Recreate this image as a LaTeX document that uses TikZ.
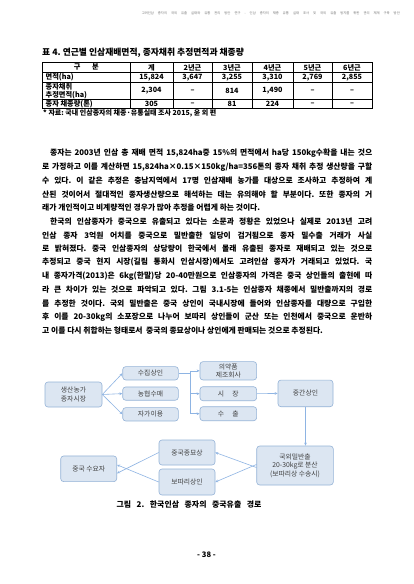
\documentclass[tikz,border=0pt]{standalone}
\usepackage{fontspec}
\setmainfont{Noto Sans CJK KR}
\usetikzlibrary{arrows.meta}
\frenchspacing
\definecolor{boxfill}{HTML}{DCE6F2}
\definecolor{boxline}{HTML}{95B3D7}
\definecolor{arr}{HTML}{8EB4E3}
\definecolor{boxtext}{HTML}{404040}
\newcommand{\bodyfont}{\bfseries\fontsize{7.8}{9}\selectfont}
\newcommand{\pl}[4]{\node[anchor=west,inner sep=0pt,font=\bodyfont] (#1) at (#3,#2) {\makebox[\dimexpr372pt-#3pt\relax][s]{#4}};}
\newcommand{\plnat}[4]{\node[anchor=west,inner sep=0pt,font=\bodyfont] (#1) at (#3,#2) {#4};}
\begin{document}
\begin{tikzpicture}[x=1pt,y=-1pt,
  fbox/.style={draw=boxline, fill=boxfill, rounded corners=3pt, line width=0.6pt, text=boxtext, font=\fontsize{6.8}{8.6}\selectfont, align=center, inner sep=0pt},
  conn/.style={draw=arr, line width=0.6pt},
  arrowline/.style={conn, -{Stealth[length=3pt,width=2.6pt]}},
  tcell/.style={font=\bfseries\fontsize{7.2}{8.3}\selectfont, inner sep=0pt, align=left},
  grid/.style={line width=0.5pt},
]
\fill[white] (0,0) rectangle (413,584);
\useasboundingbox (0,0) rectangle (413,584);

% running header
\node[anchor=east, inner sep=0pt, text=black!55, font=\fontsize{3.3}{4}\selectfont] (hdr) at (400,13) {\makebox[258pt][s]{고려인삼 종자의 국외 유출 실태와 유통 관리 방안 연구 - 인삼 종자의 채종 유통 실태 조사 및 국외 유출 방지를 위한 관리 체계 구축 방안}};

% table title
\node[anchor=west, inner sep=0pt, font=\bfseries\fontsize{8.8}{9.8}\selectfont] (ttl) at (42,52.5) {표 4. 연근별 인삼재배면적, 종자채취 추정면적과 채종량};

% table grid
\draw[line width=0.7pt] (42.5,62.5) rectangle (372,108.7);
\foreach \yy in {72.2,82.5,99.2} \draw[grid] (42.5,\yy) -- (372,\yy);
\foreach \xx in {130,173,212,252,293,332} \draw[grid] (\xx,62.5) -- (\xx,108.7);

% header row
\node[tcell] (h0) at (86.25,67.4) {구\hspace{1.6em}분};
\node[tcell] (h1) at (151.5,67.4) {계};
\node[tcell] (h2) at (192.5,67.4) {2년근};
\node[tcell] (h3) at (232,67.4) {3년근};
\node[tcell] (h4) at (272.5,67.4) {4년근};
\node[tcell] (h5) at (312.5,67.4) {5년근};
\node[tcell] (h6) at (352,67.4) {6년근};
% row 1
\node[tcell, anchor=west] (r1a) at (45.5,77.4) {면적(ha)};
\node[tcell] (r1b) at (151.5,77.4) {15,824};
\node[tcell] (r1c) at (192.5,77.4) {3,647};
\node[tcell] (r1d) at (232,77.4) {3,255};
\node[tcell] (r1e) at (272.5,77.4) {3,310};
\node[tcell] (r1f) at (312.5,77.4) {2,769};
\node[tcell] (r1g) at (352,77.4) {2,855};
% row 2
\node[tcell, anchor=west] (r2a) at (45.5,90.9) {종자채취\\추정면적(ha)};
\node[tcell] (r2b) at (151.5,90.9) {2,304};
\node[tcell] (r2c) at (192.5,90.9) {--};
\node[tcell] (r2d) at (232,90.9) {814};
\node[tcell] (r2e) at (272.5,90.9) {1,490};
\node[tcell] (r2f) at (312.5,90.9) {--};
\node[tcell] (r2g) at (352,90.9) {--};
% row 3
\node[tcell, anchor=west] (r3a) at (45.5,104) {종자 채종량(톤)};
\node[tcell] (r3b) at (151.5,104) {305};
\node[tcell] (r3c) at (192.5,104) {--};
\node[tcell] (r3d) at (232,104) {81};
\node[tcell] (r3e) at (272.5,104) {224};
\node[tcell] (r3f) at (312.5,104) {--};
\node[tcell] (r3g) at (352,104) {--};

\node[anchor=west, inner sep=0pt, font=\bfseries\fontsize{7}{8}\selectfont] (src) at (43,113.5) {* 자료: 국내 인삼종자의 채종·유통실태 조사 2015, 윤 외 편};

% body text
\pl{p1}{153.5}{50}{종자는 2003년 인삼 총 재배 면적 15,824ha중 15\%의 면적에서 ha당 150kg수확을 내는 것으}
\pl{p2}{167.1}{42}{로 가정하고 이를 계산하면 15,824ha×0.15×150kg/ha=356톤의 종자 채취 추정 생산량을 구할}
\pl{p3}{180.7}{42}{수 있다. 이 같은 추정은 충남지역에서 17명 인삼재배 농가를 대상으로 조사하고 추정하여 계}
\pl{p4}{194.3}{42}{산된 것이어서 절대적인 종자생산량으로 해석하는 데는 유의해야 할 부분이다. 또한 종자의 거}
\plnat{p5}{207.9}{42}{래가 개인적이고 비계량적인 경우가 많아 추정을 어렵게 하는 것이다.}
\pl{p6}{221.5}{50}{한국의 인삼종자가 중국으로 유출되고 있다는 소문과 정황은 있었으나 실제로 2013년 고려}
\pl{p7}{235.1}{42}{인삼 종자 3억원 어치를 중국으로 밀반출한 일당이 검거됨으로 종자 밀수출 거래가 사실}
\pl{p8}{248.7}{42}{로 밝혀졌다. 중국 인삼종자의 상당량이 한국에서 몰래 유출된 종자로 재배되고 있는 것으로}
\pl{p9}{262.3}{42}{추정되고 중국 현지 시장(길림 통화시 인삼시장)에서도 고려인삼 종자가 거래되고 있었다. 국}
\pl{p10}{275.9}{42}{내 종자가격(2013)은 6kg(한말)당 20-40만원으로 인삼종자의 가격은 중국 상인들의 출현에 따}
\pl{p11}{289.5}{42}{라 큰 차이가 있는 것으로 파악되고 있다. 그림 3.1-5는 인삼종자 채종에서 밀반출까지의 경로}
\pl{p12}{303.1}{42}{를 추정한 것이다. 국외 밀반출은 중국 상인이 국내시장에 들어와 인삼종자를 대량으로 구입한}
\pl{p13}{316.7}{42}{후 이를 20-30kg의 소포장으로 나누어 보따리 상인들이 군산 또는 인천에서 중국으로 운반하}
\plnat{p14}{330.3}{42}{고 이를 다시 취합하는 형태로서\ \ 중국의 종묘상이나 상인에게 판매되는 것으로 추정된다.}

% diagram boxes
\node[fbox, minimum width=57pt, minimum height=25pt] (A) at (73.5,394.5) {생산농가\\종자시장};
\node[fbox, minimum width=55.6pt, minimum height=13.3pt] (B1) at (150.5,373.3) {수집상인};
\node[fbox, minimum width=55.6pt, minimum height=13.3pt] (B2) at (150.5,393.6) {농협수매};
\node[fbox, minimum width=55.6pt, minimum height=13.3pt] (B3) at (150.5,414.3) {자가이용};
\node[fbox, minimum width=56.7pt, minimum height=18.3pt] (C1) at (228.3,370.8) {의약품\\제조회사};
\node[fbox, minimum width=56.7pt, minimum height=14pt] (C2) at (228.3,393.7) {시\hspace{1.2em}장};
\node[fbox, minimum width=56.7pt, minimum height=14pt] (C3) at (228.3,413.7) {수\hspace{1.2em}출};
\node[fbox, minimum width=55pt, minimum height=26.7pt] (D) at (305.5,393.4) {중간상인};
\node[fbox, minimum width=76.6pt, minimum height=39pt] (E) at (295,465.5) {국외밀반출\\20-30kg로 분산\\(보따리상 수송시)};
\node[fbox, minimum width=56pt, minimum height=25pt] (F1) at (187,452.5) {중국종묘상};
\node[fbox, minimum width=56pt, minimum height=26pt] (F2) at (187,482) {보따리상인};
\node[fbox, minimum width=56pt, minimum height=25.7pt] (G) at (88.7,468.8) {중국 수요자};

% connectors
\draw[arrowline] (A.east) -- (B1.west);
\draw[arrowline] (A.east) -- (B2.west);
\draw[arrowline] (A.east) -- (B3.west);
\coordinate (bx) at (190,373.3);
\draw[conn] (B1.east) -- (bx);
\draw[conn] (bx |- C1.west) -- (bx |- C3.west);
\draw[arrowline] (bx |- C1.west) -- (C1.west);
\draw[arrowline] (bx |- C2.west) -- (C2.west);
\draw[arrowline] (bx |- C3.west) -- (C3.west);
\draw[arrowline] (C2.east) -- (D.west);
\draw[arrowline] (D.south) -- (D.south |- E.north);
\draw[arrowline] ([yshift=-2pt]E.west) -- (F1.east);
\draw[arrowline] ([yshift=1pt]E.west) -- (F2.east);
\draw[arrowline] (F1.west) -- ([yshift=-4.5pt]G.east);
\draw[arrowline] (F2.west) -- ([yshift=4pt]G.east);

% caption and page number
\node[inner sep=0pt, font=\bfseries\fontsize{7.9}{9}\selectfont] (cap) at (189,505) {\makebox[145pt][s]{그림 2. 한국인삼 종자의 중국유출 경로}};
\node[inner sep=0pt, font=\bfseries\fontsize{7.6}{9}\selectfont] (pg) at (206.5,555) {- 38 -};
\end{tikzpicture}
\end{document}
